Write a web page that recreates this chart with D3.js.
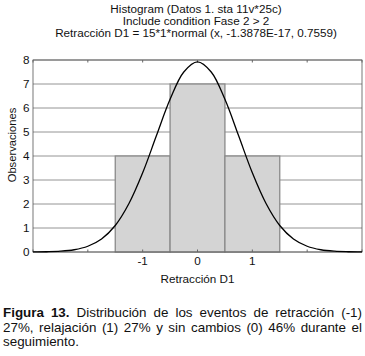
<!DOCTYPE html>
<html>
<head>
<meta charset="utf-8">
<script src="https://cdn.jsdelivr.net/npm/d3@7"></script>
<style>
  html, body { margin: 0; padding: 0; background: #fff; }
  svg { display: block; font-family: "Liberation Sans", Arial, sans-serif; }
</style>
</head>
<body>
<svg id="chart" width="365" height="356"></svg>
<script>
// Histogram bins (center, count)
const binCenters = [-1, 0, 1];
const binCounts  = [4, 7, 4];

// Fitted normal curve
const curveX = [-3, -2.75, -2.5, -2.25, -2, -1.75, -1.5, -1.25, -1, -0.75, -0.5, -0.25, 0,
                0.25, 0.5, 0.75, 1, 1.25, 1.5, 1.75, 2, 2.25, 2.5, 2.75, 3];
const curveY = [0.003, 0.011, 0.033, 0.094, 0.239, 0.543, 1.105, 2.02, 3.30, 4.84, 6.36, 7.50, 7.92,
                7.50, 6.36, 4.84, 3.30, 2.02, 1.105, 0.543, 0.239, 0.094, 0.033, 0.011, 0.003];

const xTicks      = [-3, -2, -1, 0, 1, 2, 3];
const xTickLabels = ['-1', '0', '1'];
const yTicks      = [0, 1, 2, 3, 4, 5, 6, 7, 8];

const titleLines = [
  'Histogram (Datos 1. sta 11v*25c)',
  'Include condition Fase 2 > 2',
  'Retracción D1 = 15*1*normal (x, -1.3878E-17, 0.7559)'
];

const svg = d3.select('#chart');
const FS  = 11.7;

const x = d3.scaleLinear().domain([-3, 3]).range([33, 362]);
const y = d3.scaleLinear().domain([0, 8]).range([252, 60]);

/* ── Titles ── */
svg.selectAll('.title')
  .data(titleLines)
  .join('text')
  .attr('x', 196)
  .attr('y', (d, i) => 13 + i * 12.2)
  .attr('text-anchor', 'middle')
  .attr('font-size', FS)
  .attr('fill', '#111')
  .text(d => d);

/* ── Grid lines ── */
svg.selectAll('.grid')
  .data(yTicks)
  .join('line')
  .attr('x1', x(-3)).attr('x2', x(3))
  .attr('y1', d => y(d)).attr('y2', d => y(d))
  .attr('stroke', '#7a7a7a')
  .attr('stroke-width', 0.8);

/* ── Bars ── */
svg.selectAll('.bar')
  .data(binCenters)
  .join('rect')
  .attr('x', d => x(d - 0.5))
  .attr('width', x(0.5) - x(-0.5))
  .attr('y', (d, i) => y(binCounts[i]))
  .attr('height', (d, i) => y(0) - y(binCounts[i]))
  .attr('fill', '#d4d4d4')
  .attr('stroke', '#8a8a8a')
  .attr('stroke-width', 1.3);

/* ── Frame ── */
svg.append('rect')
  .attr('x', x(-3)).attr('y', y(8))
  .attr('width', x(3) - x(-3)).attr('height', y(0) - y(8))
  .attr('fill', 'none')
  .attr('stroke', '#555')
  .attr('stroke-width', 0.8);

/* ── Small x ticks top & bottom ── */
svg.selectAll('.xtb')
  .data(xTicks)
  .join('line')
  .attr('x1', d => x(d)).attr('x2', d => x(d))
  .attr('y1', y(0)).attr('y2', y(0) - 2.5)
  .attr('stroke', '#666');
svg.selectAll('.xtt')
  .data(xTicks)
  .join('line')
  .attr('x1', d => x(d)).attr('x2', d => x(d))
  .attr('y1', y(8)).attr('y2', y(8) + 2.5)
  .attr('stroke', '#666');

/* ── Normal curve ── */
const line = d3.line()
  .x((d, i) => x(curveX[i]))
  .y(d => y(d))
  .curve(d3.curveCatmullRom);
svg.append('path')
  .attr('d', line(curveY))
  .attr('fill', 'none')
  .attr('stroke', '#000')
  .attr('stroke-width', 1.3);

/* ── Axis labels ── */
svg.selectAll('.ylab')
  .data(yTicks)
  .join('text')
  .attr('x', 29.5)
  .attr('y', d => y(d) + 4.3)
  .attr('text-anchor', 'end')
  .attr('font-size', FS)
  .attr('fill', '#111')
  .text(d => d);

svg.selectAll('.xlab')
  .data(xTickLabels)
  .join('text')
  .attr('x', d => x(+d))
  .attr('y', 264.5)
  .attr('text-anchor', 'middle')
  .attr('font-size', FS)
  .attr('fill', '#111')
  .text(d => d);

svg.append('text')
  .attr('x', x(0))
  .attr('y', 282.5)
  .attr('text-anchor', 'middle')
  .attr('font-size', FS)
  .attr('fill', '#111')
  .text('Retracción D1');

svg.append('text')
  .attr('transform', 'translate(15.5, 145) rotate(-90)')
  .attr('text-anchor', 'middle')
  .attr('font-size', 11.2)
  .attr('fill', '#111')
  .text('Observaciones');

/* ── Caption (justified by word spacing) ── */
const CAP_FS = 13.4;
const CAP_W  = 359;

function justify(t) {
  const node  = t.node();
  const words = node.textContent.split(' ').length - 1;
  const extra = CAP_W - node.getComputedTextLength();
  if (words > 0 && extra > 0) t.attr('word-spacing', extra / words);
}

const cap1 = svg.append('text')
  .attr('x', 3).attr('y', 317)
  .attr('font-size', CAP_FS)
  .attr('fill', '#111');
cap1.append('tspan').attr('font-weight', 'bold').text('Figura 13.');
cap1.append('tspan').text(' Distribución de los eventos de retracción (-1)');
justify(cap1);

const cap2 = svg.append('text')
  .attr('x', 3).attr('y', 331.5)
  .attr('font-size', CAP_FS)
  .attr('fill', '#111')
  .text('27%, relajación (1) 27% y sin cambios (0) 46% durante el');
justify(cap2);

svg.append('text')
  .attr('x', 3).attr('y', 345.5)
  .attr('font-size', CAP_FS)
  .attr('fill', '#111')
  .text('seguimiento.');
</script>
</body>
</html>
